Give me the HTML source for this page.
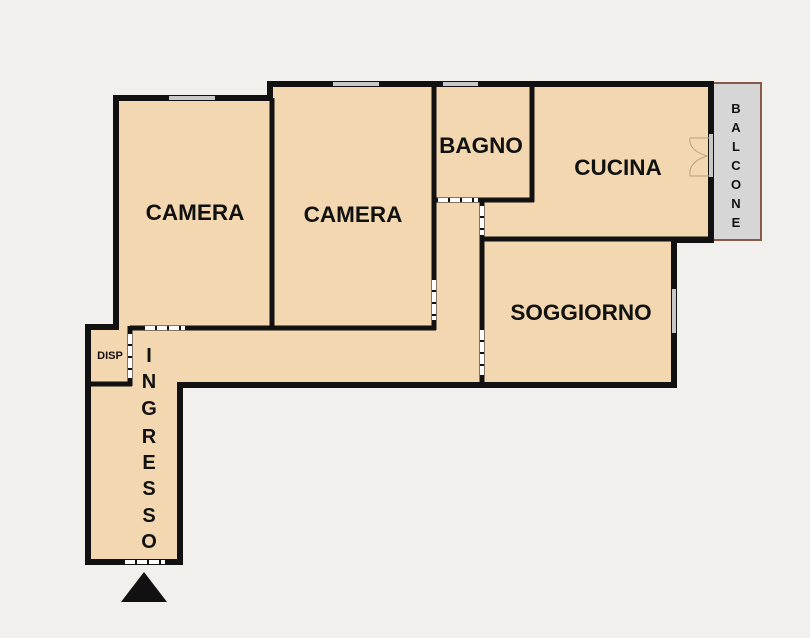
<!DOCTYPE html>
<html><head><meta charset="utf-8"><style>
html,body{margin:0;padding:0;background:#f1f0ec;}
svg{display:block}
text{font-family:"Liberation Sans",sans-serif;font-weight:bold;fill:#111;}
</style></head><body>
<svg width="810" height="638" viewBox="0 0 810 638">
<rect x="711" y="83" width="50" height="157" fill="#d6d6d6" stroke="#8a5a48" stroke-width="2"/>
<polygon points="88,327 116,327 116,98 270,98 270,84 711,84 711,240 674,240 674,385 180,385 180,562 88,562" fill="#f2d7b0" stroke="#111" stroke-width="6" stroke-linejoin="miter"/>
<g stroke="#111" stroke-width="5" fill="none">
<line x1="272" y1="98" x2="272" y2="328"/>
<line x1="130" y1="328" x2="436" y2="328"/>
<line x1="434" y1="84" x2="434" y2="330"/>
<line x1="532" y1="84" x2="532" y2="202"/>
<line x1="432" y1="200" x2="534" y2="200"/>
<line x1="482" y1="198" x2="482" y2="386"/>
<line x1="480" y1="239" x2="712" y2="239"/>
<line x1="130" y1="326" x2="130" y2="386"/>
<line x1="88" y1="384" x2="132" y2="384"/>
<line x1="711" y1="84" x2="711" y2="240"/>
</g>
<g stroke="#fff" stroke-width="4" stroke-dasharray="10,2">
<line x1="145" y1="328" x2="185" y2="328"/>
<line x1="434" y1="280" x2="434" y2="320"/>
<line x1="438" y1="200" x2="478" y2="200"/>
<line x1="482" y1="206" x2="482" y2="235"/>
<line x1="482" y1="330" x2="482" y2="375"/>
<line x1="130" y1="334" x2="130" y2="378"/>
<line x1="125" y1="562" x2="165" y2="562"/>
</g>
<g stroke="#c8c8c8" stroke-width="4">
<line x1="169" y1="98" x2="215" y2="98"/>
<line x1="333" y1="84" x2="379" y2="84"/>
<line x1="443" y1="84" x2="478" y2="84"/>
<line x1="674" y1="289" x2="674" y2="333"/>
<line x1="711" y1="134" x2="711" y2="177"/>
</g>
<path d="M709,138 L690,138 Q688,150 707,156 Q688,162 690,176 L709,176" fill="none" stroke="#b8a080" stroke-width="1"/>
<polygon points="144,572 121,602 167,602" fill="#111"/>
<g font-size="22.5" text-anchor="middle">
<text x="195" y="220">CAMERA</text>
<text x="353" y="222">CAMERA</text>
<text x="481" y="153">BAGNO</text>
<text x="618" y="175">CUCINA</text>
<text x="581" y="320">SOGGIORNO</text>
</g>
<text x="110" y="359" font-size="11" text-anchor="middle">DISP</text>
<g font-size="20" text-anchor="middle">
<text x="149" y="362">I</text>
<text x="149" y="388">N</text>
<text x="149" y="415">G</text>
<text x="149" y="443">R</text>
<text x="149" y="469">E</text>
<text x="149" y="495">S</text>
<text x="149" y="522">S</text>
<text x="149" y="548">O</text>
</g>
<g font-size="13" text-anchor="middle">
<text x="736" y="113">B</text>
<text x="736" y="132">A</text>
<text x="736" y="151">L</text>
<text x="736" y="170">C</text>
<text x="736" y="189">O</text>
<text x="736" y="208">N</text>
<text x="736" y="227">E</text>
</g>
</svg>
</body></html>
